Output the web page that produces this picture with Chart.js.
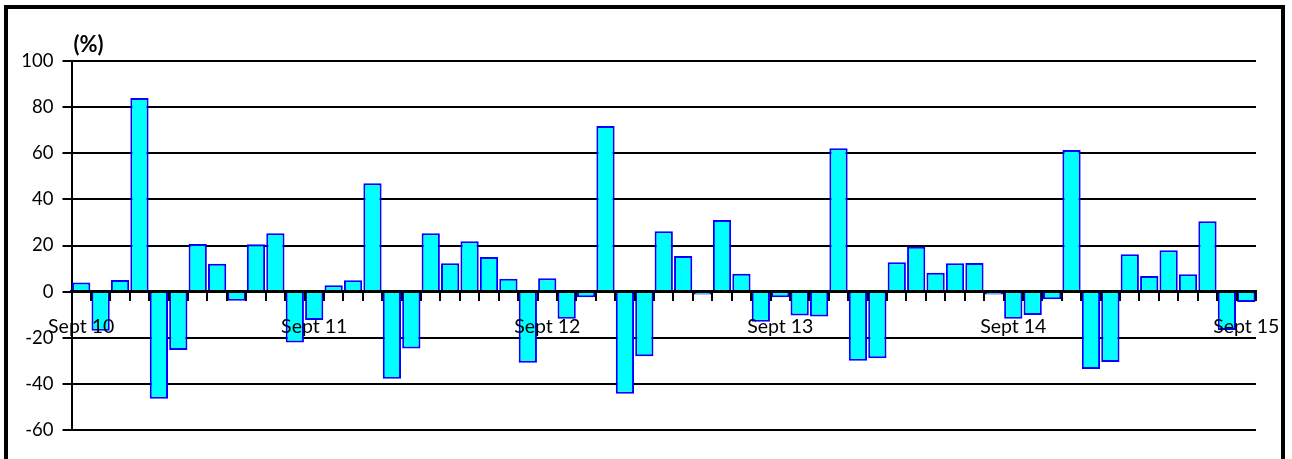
<!DOCTYPE html>
<html>
<head>
<meta charset="utf-8">
<script src="https://cdn.jsdelivr.net/npm/chart.js@4"></script>
<style>
  html, body { margin: 0; padding: 0; background: #fff; overflow: hidden; }
  #wrap { position: relative; width: 1292px; height: 459px; }
  #frame { position: absolute; left: 4px; top: 5px; width: 1281px; height: 480px; border: 4px solid #000; box-sizing: border-box; pointer-events: none; }
  canvas { position: absolute; left: 0; top: 0; }
</style>
</head>
<body>
<div id="wrap">
  <canvas id="myChart" width="1292" height="459"></canvas>
  <div id="frame"></div>
</div>
<script>
// months Sept 10 .. Sept 15
const categories = [
  'Sept 10', 'Oct 10', 'Nov 10', 'Dec 10', 'Jan 11', 'Feb 11', 'Mar 11', 'Apr 11', 'May 11', 'Jun 11', 'Jul 11', 'Aug 11',
  'Sept 11', 'Oct 11', 'Nov 11', 'Dec 11', 'Jan 12', 'Feb 12', 'Mar 12', 'Apr 12', 'May 12', 'Jun 12', 'Jul 12', 'Aug 12',
  'Sept 12', 'Oct 12', 'Nov 12', 'Dec 12', 'Jan 13', 'Feb 13', 'Mar 13', 'Apr 13', 'May 13', 'Jun 13', 'Jul 13', 'Aug 13',
  'Sept 13', 'Oct 13', 'Nov 13', 'Dec 13', 'Jan 14', 'Feb 14', 'Mar 14', 'Apr 14', 'May 14', 'Jun 14', 'Jul 14', 'Aug 14',
  'Sept 14', 'Oct 14', 'Nov 14', 'Dec 14', 'Jan 15', 'Feb 15', 'Mar 15', 'Apr 15', 'May 15', 'Jun 15', 'Jul 15', 'Aug 15',
  'Sept 15'
];
const tickLabels = ['Sept 10', 'Sept 11', 'Sept 12', 'Sept 13', 'Sept 14', 'Sept 15'];

const values = [
  4, -17, 5, 84, -46.5, -25.3, 20.7, 12.1, -4, 20.5, 25.3, -22.1,
  -12.3, 2.8, 4.9, 47, -37.8, -24.7, 25.3, 12.3, 21.8, 15, 5.6, -30.8,
  5.8, -11.8, -2.4, 71.8, -44.3, -28, 26.2, 15.5, -1.3, 31.1, 7.7, -13.1,
  -2.4, -10.4, -10.8, 62.2, -30, -28.9, 12.7, 19.5, 8.2, 12.3, 12.4, -1.3,
  -11.8, -10.1, -3.3, 61.4, -33.6, -30.5, 16.2, 6.8, 17.9, 7.5, 30.5, -16.6,
  -4.5
];

const yMin = -60;
const yMax = 100;
const yStep = 20;

const fontFamily = 'Lato, "Open Sans", sans-serif';

// "(%)" label above the axis
const unitLabel = {
  id: 'unitLabel',
  afterDraw(chart) {
    const c = chart.ctx;
    c.save();
    c.font = 'bold 22px ' + fontFamily;
    c.fillStyle = '#000';
    c.textAlign = 'left';
    c.textBaseline = 'middle';
    c.fillText('(%)', chart.chartArea.left + 2, chart.chartArea.top - 16);
    c.restore();
  }
};

const ctx = document.getElementById('myChart').getContext('2d');

new Chart(ctx, {
  type: 'bar',
  data: {
    labels: categories,
    datasets: [{
      data: values,
      backgroundColor: '#00FFFF',
      borderColor: '#0000FF',
      borderWidth: 2,
      barPercentage: 0.94,
      categoryPercentage: 1
    }]
  },
  options: {
    responsive: false,
    animation: false,
    devicePixelRatio: 1,
    layout: {
      padding: { top: 61, bottom: 29, left: 0, right: 36 }
    },
    plugins: {
      legend: { display: false },
      tooltip: { enabled: false }
    },
    scales: {
      x: {
        position: { y: 0 },
        grid: {
          z: 1,
          offset: true,
          drawOnChartArea: false,
          drawTicks: true,
          tickLength: 8,
          color: '#000',
          lineWidth: 2
        },
        border: { display: true, color: '#000', width: 3, z: 1 },
        ticks: {
          z: 1,
          autoSkip: false,
          maxRotation: 0,
          minRotation: 0,
          padding: 15,
          color: '#000',
          font: { family: fontFamily, size: 19.5 },
          callback: function(val, i) {
            const lab = categories[i];
            return tickLabels.includes(lab) ? lab : '';
          }
        },
        afterFit: function(s) {
          s.paddingLeft = 0;
          s.paddingRight = 0;
        }
      },
      y: {
        min: yMin,
        max: yMax,
        grid: {
          color: '#000',
          lineWidth: 2,
          drawTicks: true,
          tickLength: 9
        },
        border: { display: true, color: '#000', width: 2 },
        ticks: {
          stepSize: yStep,
          padding: 9,
          color: '#000',
          font: { family: fontFamily, size: 18.5 }
        },
        afterFit: function(s) {
          s.width = 71.5;
        }
      }
    }
  },
  plugins: [unitLabel]
});
</script>
</body>
</html>
